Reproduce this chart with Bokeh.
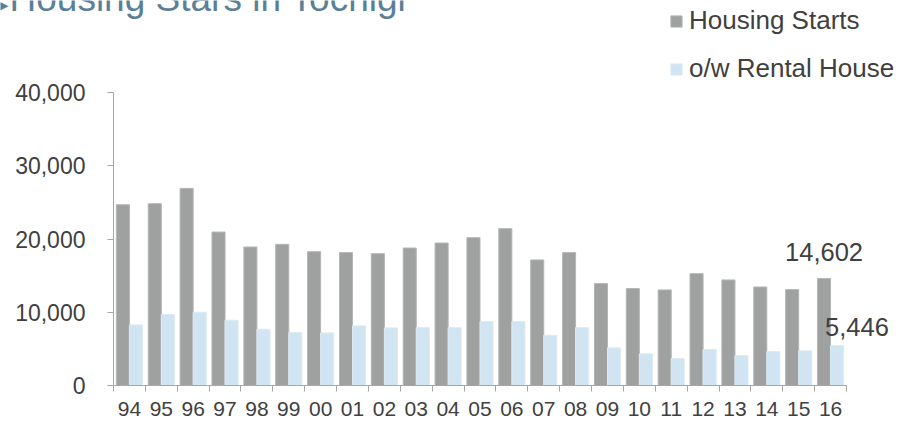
from bokeh.plotting import figure
from bokeh.models import (ColumnDataSource, Range1d, FixedTicker, NumeralTickFormatter,
                          Label, Legend, LegendItem)
from bokeh.transform import dodge
from bokeh.embed import file_html
from bokeh.resources import INLINE

# Fiscal years (two-digit) and housing starts in Tochigi
years = ["94", "95", "96", "97", "98", "99", "00", "01", "02", "03", "04", "05",
         "06", "07", "08", "09", "10", "11", "12", "13", "14", "15", "16"]
housing_starts = [24680, 24820, 26910, 20950, 18910, 19270, 18270, 18140, 18000, 18770,
                  19450, 20180, 21410, 17140, 18140, 13910, 13230, 13050, 15270, 14410,
                  13450, 13090, 14602]
rental_house = [8270, 9680, 10000, 8910, 7680, 7230, 7180, 8140, 7860, 7910,
                7910, 8730, 8730, 6860, 7910, 5140, 4320, 3680, 4910, 4090,
                4640, 4730, 5446]
y_ticks = [0, 10000, 20000, 30000, 40000]

FONT = "Liberation Sans"
TEXT = "#404040"
GREY = "#9fa0a0"
BLUE = "#d0e4f1"
AXIS = "#a6a6a6"
TITLE = "#5b8096"

W, H = 901, 422
# where the value axes sit on the canvas (pixels): left/right/top/bottom of the bar area
AL, AR, AT, AB = 113, 846, 92, 385
N = len(years)
YMAX = y_ticks[-1]


def px_x(px):
    return -0.5 + (px - AL) / (AR - AL) * N


def px_y(py):
    return (AB - py) / (AB - AT) * YMAX


src = ColumnDataSource(dict(idx=list(range(N)), starts=housing_starts, rental=rental_house))

# the drawing area spans the whole canvas; the axes are pinned at x=-0.5 and y=0
p = figure(width=W, height=H, output_backend="svg", toolbar_location=None, title=None,
           x_range=Range1d(px_x(0), px_x(W)), y_range=Range1d(px_y(H), px_y(0)),
           min_border=0)
p.outline_line_color = None
p.xgrid.grid_line_color = None
p.ygrid.grid_line_color = None
p.background_fill_color = "white"
p.border_fill_color = "white"

bw = 0.41
r1 = p.vbar(x=dodge("idx", -bw / 2, range=p.x_range), top="starts", width=bw, source=src,
            fill_color=GREY, line_color="#b4b5b5", line_width=1)
r2 = p.vbar(x=dodge("idx", bw / 2, range=p.x_range), top="rental", width=bw, source=src,
            fill_color=BLUE, line_color="#dceaf4", line_width=1)

# x axis: year labels at category centres, tick marks at category boundaries
xa = p.xaxis[0]
xa.fixed_location = 0
xa.bounds = (-0.5, N - 0.5)
xa.ticker = FixedTicker(ticks=list(range(N)), minor_ticks=[i - 0.5 for i in range(N + 1)])
xa.major_label_overrides = {i: y for i, y in enumerate(years)}
xa.major_tick_out = 0
xa.major_tick_in = 0
xa.minor_tick_out = 6
xa.minor_tick_in = 0
xa.minor_tick_line_color = AXIS
xa.axis_line_color = AXIS
xa.major_label_text_font = FONT
xa.major_label_text_font_size = "21px"
xa.major_label_text_color = TEXT
xa.major_label_standoff = 10

ya = p.yaxis[0]
ya.fixed_location = -0.5
ya.bounds = (0, YMAX)
ya.ticker = FixedTicker(ticks=y_ticks)
ya.formatter = NumeralTickFormatter(format="0,0")
ya.major_tick_out = 6
ya.major_tick_in = 0
ya.minor_tick_line_color = None
ya.minor_tick_out = 0
ya.major_tick_line_color = AXIS
ya.axis_line_color = AXIS
ya.major_label_text_font = FONT
ya.major_label_text_font_size = "23px"
ya.major_label_text_color = TEXT
ya.major_label_standoff = 22

# value call-outs for the latest year
p.add_layout(Label(x=N - 1 - bw / 2, y=housing_starts[-1], text=f"{housing_starts[-1]:,}",
                   text_align="center", text_baseline="alphabetic", y_offset=27,
                   text_font=FONT, text_font_size="25.5px", text_color=TEXT))
p.add_layout(Label(x=N - 1 + bw / 2, y=rental_house[-1], text=f"{rental_house[-1]:,}",
                   text_align="left", text_baseline="alphabetic", x_offset=-12, y_offset=19,
                   text_font=FONT, text_font_size="25.5px", text_color=TEXT))

# heading with its bullet arrow
p.add_layout(Label(x=px_x(8), y=px_y(3), text="\u25B6", text_align="right",
                   text_baseline="alphabetic", text_font="DejaVu Sans",
                   text_font_size="30px", text_color=TITLE))
p.add_layout(Label(x=px_x(9), y=px_y(-2), text="Housing Stars in Tochigi",
                   text_align="left", text_baseline="alphabetic", text_font=FONT,
                   text_font_size="37px", text_color=TITLE))

legend = Legend(items=[LegendItem(label="Housing Starts", renderers=[r1]),
                       LegendItem(label="o/w Rental House", renderers=[r2])],
                location=(669, H - 84), orientation="vertical",
                glyph_width=14, glyph_height=14, label_standoff=6, spacing=17,
                padding=0, margin=0, border_line_color=None, background_fill_alpha=0,
                label_text_font=FONT, label_text_font_size="26px", label_text_color=TEXT)
p.add_layout(legend, "center")

open("out.html", "w").write(file_html(p, INLINE))
